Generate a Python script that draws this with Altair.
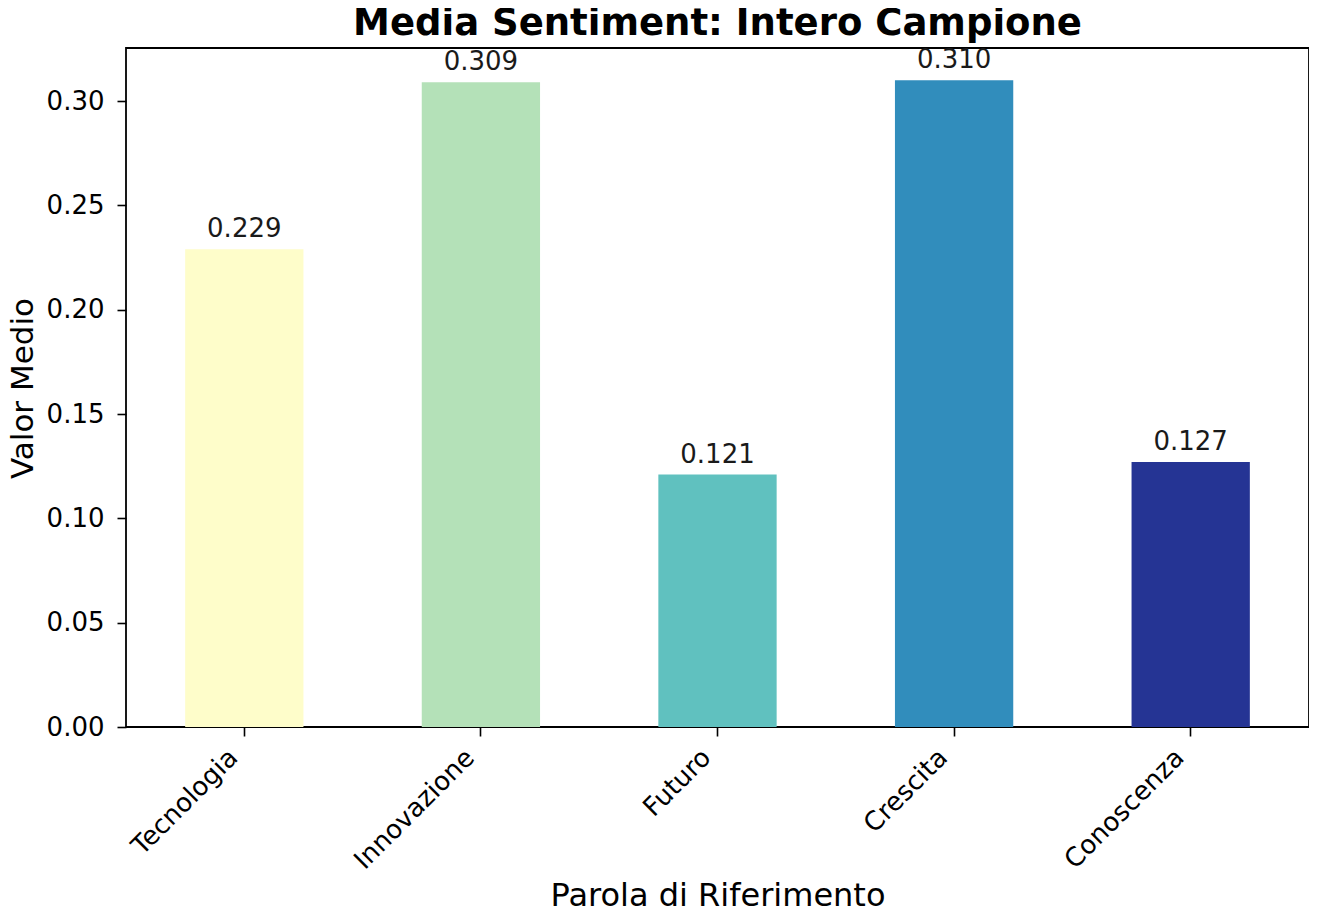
import altair as alt
import pandas as pd

words = ["Tecnologia", "Innovazione", "Futuro", "Crescita", "Conoscenza"]
values = [0.229, 0.309, 0.121, 0.310, 0.127]
colors = ["#fefdca", "#b4e1b8", "#60c1bf", "#318dbc", "#253494"]
y_ticks = [0.0, 0.05, 0.10, 0.15, 0.20, 0.25, 0.30]

df = pd.DataFrame({"Parola": words, "Valore": values})

FONT = "DejaVu Sans"

x_enc = alt.X(
    "Parola:N",
    sort=words,
    scale=alt.Scale(paddingInner=0.5, paddingOuter=0.25),
    axis=alt.Axis(
        title="Parola di Riferimento",
        labelAngle=-45,
        labelAlign="right",
        labelBaseline="top",
        labelOffset=-20,
        labelPadding=8,
        labelFontSize=26,
        labelFont=FONT,
        labelColor="#000000",
        titleFontSize=32,
        titleFont=FONT,
        titleFontWeight="normal",
        titleColor="#000000",
        titleBaseline="alphabetic",
        titleY=178,
        tickSize=9,
        tickWidth=1.6,
        tickColor="#000000",
        domain=False,
        grid=False,
    ),
)

y_enc = alt.Y(
    "Valore:Q",
    scale=alt.Scale(domain=[0, 0.3254], nice=False, zero=True),
    axis=alt.Axis(
        title="Valor Medio",
        values=y_ticks,
        format=".2f",
        labelFontSize=26,
        labelFont=FONT,
        labelColor="#000000",
        labelPadding=13,
        titleFontSize=31,
        titleFont=FONT,
        titleFontWeight="normal",
        titleColor="#000000",
        titleBaseline="alphabetic",
        titleX=-94,
        titleY=340,
        tickSize=9,
        tickWidth=1.6,
        tickColor="#000000",
        domain=False,
        grid=False,
    ),
)

bars = alt.Chart(df).mark_bar().encode(
    x=x_enc,
    y=y_enc,
    color=alt.Color("Parola:N", scale=alt.Scale(domain=words, range=colors), legend=None),
)

labels = alt.Chart(df).mark_text(
    baseline="alphabetic", dy=-12, fontSize=26, font=FONT, color="#1a1a1a"
).encode(
    x=alt.X("Parola:N", sort=words),
    y=alt.Y("Valore:Q"),
    text=alt.Text("Valore:Q", format=".3f"),
)

chart = (
    alt.layer(bars, labels)
    .properties(
        width=1183,
        height=679,
        title=alt.TitleParams(
            "Media Sentiment: Intero Campione",
            font=FONT,
            fontSize=37,
            fontWeight="bold",
            color="#000000",
            anchor="middle",
            frame="group",
            offset=4,
        ),
        autosize=alt.AutoSizeParams(type="none"),
        padding={"left": 118, "top": 40, "right": 0, "bottom": 187},
    )
    .configure(background="#ffffff")
    .configure_view(stroke="#000000", strokeWidth=1.8)
)

chart.save("out.html", embed_options={"renderer": "svg", "actions": False})
